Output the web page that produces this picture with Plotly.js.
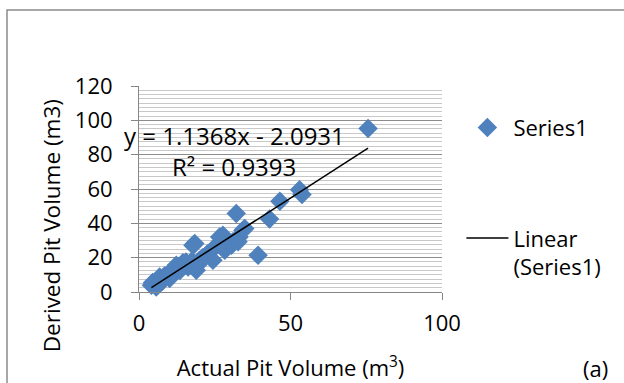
<!DOCTYPE html>
<html>
<head>
<meta charset="utf-8">
<script src="https://cdn.plot.ly/plotly-3.0.1.min.js"></script>
<style>html,body{margin:0;padding:0;background:#fff;}#chart{width:624px;height:383px;}</style>
</head>
<body>
<div id="chart"></div>
<script>
// Actual pit volume (m3) vs derived pit volume (m3)
const actualVolume = [4.1, 4.5, 5.7, 6.0, 6.8, 7.5, 8.5, 9.6, 10.1, 11.0, 12.3, 12.9, 13.5, 14.5, 15.5, 16.2, 17.5, 17.8, 18.4, 18.9, 19.5, 20.0, 21.0, 22.2, 22.8, 24.4, 25.5, 26.6, 27.7, 28.3, 28.8, 30.5, 31.0, 32.1, 32.7, 33.0, 34.3, 34.9, 39.3, 43.1, 46.5, 53.0, 53.8, 75.6];
const derivedVolume = [3.9, 5.5, 2.9, 6.5, 8.8, 6.0, 9.5, 10.5, 7.8, 12.0, 15.6, 14.0, 12.5, 17.0, 17.5, 14.5, 18.0, 27.2, 28.2, 12.7, 16.0, 18.5, 20.0, 21.4, 22.4, 18.5, 27.0, 32.1, 33.0, 24.3, 26.3, 27.2, 29.2, 45.7, 29.2, 32.1, 36.0, 37.0, 21.4, 42.5, 52.8, 59.5, 56.8, 95.3];
// Linear trendline endpoints (y = 1.1368x - 2.0931)
const trendX = [4.1, 75.6];
const trendY = [2.57, 83.85];
const xTicks = [0, 50, 100];
const yTicks = [0, 20, 40, 60, 80, 100, 120];
const seriesName = "Series1";
const trendName = "Linear<br>(Series1)";
const equationText = "y = 1.1368x - 2.0931";
const r2Text = "R² = 0.9393";

const FONT = "Open Sans, Liberation Sans, sans-serif";
const traces = [
  {
    x: actualVolume, y: derivedVolume, type: "scatter", mode: "markers", name: seriesName,
    legendgroup: "a",
    marker: {symbol: "diamond", size: 15, color: "#4f81bd", line: {width: 0}},
    cliponaxis: false
  },
  {
    x: trendX, y: trendY, type: "scatter", mode: "lines", name: trendName,
    legendgroup: "b",
    line: {color: "#000000", width: 1.5}
  }
];

const layout = {
  width: 624, height: 383,
  margin: {l: 139, r: 182, t: 86, b: 91, pad: 0},
  paper_bgcolor: "#ffffff", plot_bgcolor: "#ffffff",
  font: {family: FONT, size: 22, color: "#000000"},
  showlegend: true,
  legend: {
    x: 1.064, xanchor: "left", y: 0.90, yanchor: "top",
    font: {family: FONT, size: 22, color: "#000000"},
    tracegroupgap: 79, valign: "top", bgcolor: "rgba(0,0,0,0)",
    itemwidth: 42
  },
  xaxis: {
    range: [0, 100], tickvals: xTicks, ticktext: xTicks.map(String),
    showgrid: false, zeroline: false,
    showline: true, linecolor: "#868686", linewidth: 1,
    ticks: "outside", ticklen: 7, tickcolor: "#868686",
    ticklabelstandoff: 5,
    tickfont: {family: FONT, size: 22, color: "#000000"},
    title: {text: "Actual Pit Volume (m<sup>3</sup>)", font: {family: FONT, size: 22, color: "#000000"}, standoff: 24},
    fixedrange: true
  },
  yaxis: {
    range: [0, 120], tickvals: yTicks, ticktext: yTicks.map(String),
    showgrid: true, gridcolor: "#8c8c8c", gridwidth: 1,
    zeroline: false,
    showline: true, linecolor: "#868686", linewidth: 1,
    ticks: "outside", ticklen: 7, tickcolor: "#868686",
    ticklabelstandoff: 14,
    tickfont: {family: FONT, size: 22, color: "#000000"},
    minor: {dtick: 2.5, showgrid: true, gridcolor: "#c8c8c8", gridwidth: 1, ticks: ""},
    fixedrange: true
  },
  shapes: [
    {type: "rect", xref: "paper", yref: "paper", x0: -0.4356, x1: 2, y0: -1, y1: 1.3695,
     line: {color: "#8c8c8c", width: 1.5}, fillcolor: "rgba(0,0,0,0)", layer: "below"}
  ],
  annotations: [
    {text: "Derived Pit Volume (m3)", xref: "paper", yref: "paper", x: -0.29, y: 0.32,
     xanchor: "center", yanchor: "middle", textangle: -90, showarrow: false,
     font: {family: FONT, size: 22.5, color: "#000000"}},
    {text: equationText, xref: "x", yref: "y", x: 31.6, y: 91.4, xanchor: "center", yanchor: "middle",
     showarrow: false, font: {family: FONT, size: 24, color: "#000000"}},
    {text: r2Text, xref: "x", yref: "y", x: 31.5, y: 72.9, xanchor: "center", yanchor: "middle",
     showarrow: false, font: {family: FONT, size: 24, color: "#000000"}},
    {text: "(a)", xref: "paper", yref: "paper", x: 1.505, y: -0.37, xanchor: "center", yanchor: "middle",
     showarrow: false, font: {family: FONT, size: 22, color: "#000000"}}
  ]
};

Plotly.newPlot("chart", traces, layout, {staticPlot: true, displayModeBar: false});
</script>
</body>
</html>
